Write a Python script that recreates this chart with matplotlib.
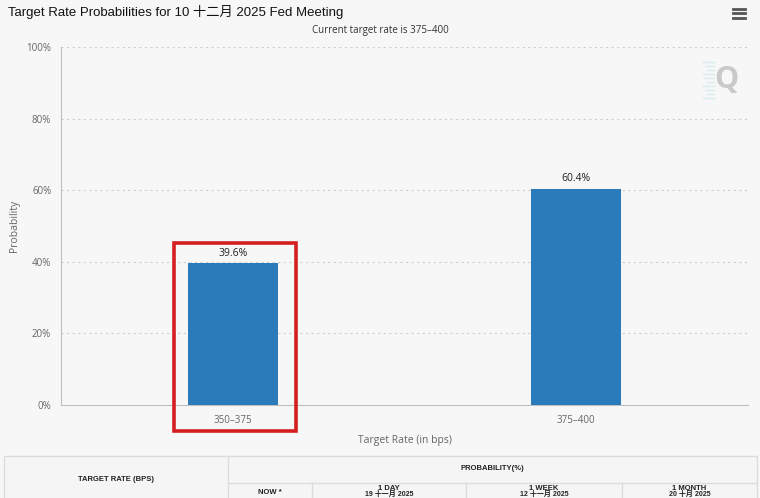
import matplotlib
matplotlib.use("Agg")
import matplotlib.pyplot as plt
from matplotlib.patches import Rectangle
from matplotlib.lines import Line2D

# data
categories = ["350–375", "375–400"]
probabilities = [39.6, 60.4]
y_ticks = [0, 20, 40, 60, 80, 100]
table_cols = ["NOW *", "1 DAY", "1 WEEK", "1 MONTH"]
table_dates = ["", "19 十一月 2025", "12 十一月 2025", "20 十月 2025"]

W, H = 760, 498
bg = "#f7f7f7"
bar_color = "#2b7bba"
text_gray = "#666666"
cjk = ["Liberation Sans", "Noto Sans CJK SC", "DejaVu Sans"]
plt.rcParams["font.family"] = ["Open Sans", "DejaVu Sans"]


def fx(px):
    return px / W


def fy(py):
    return 1 - py / H


fig = plt.figure(figsize=(W / 100, H / 100), dpi=100, facecolor=bg)

ax = fig.add_axes([fx(61), fy(405), fx(748) - fx(61), (405 - 47) / H])
ax.set_facecolor(bg)
x = list(range(len(categories)))
bars = ax.bar(x, probabilities, width=0.262, color=bar_color, zorder=3)
for xi, v in zip(x, probabilities):
    ax.text(xi, v + 1.2, f"{v:.1f}%", ha="center", va="bottom",
            fontsize=7.5, color="#222222", zorder=4)

ax.set_xlim(-0.5, len(categories) - 0.5)
ax.set_ylim(0, 100)
ax.set_yticks(y_ticks)
ax.set_yticklabels([f"{t}%" for t in y_ticks], fontsize=7, color=text_gray)
ax.set_xticks(x)
ax.set_xticklabels(categories, fontsize=7, color=text_gray)
ax.tick_params(axis="both", length=0, pad=7)
ax.yaxis.grid(True, linestyle=(0, (2, 3)), color="#cfcfcf", linewidth=0.8)
ax.set_axisbelow(True)
for s in ["top", "right"]:
    ax.spines[s].set_visible(False)
ax.spines["left"].set_color("#bfbfbf")
ax.spines["bottom"].set_color("#bfbfbf")
ax.spines["left"].set_linewidth(0.8)
ax.spines["bottom"].set_linewidth(0.8)
ax.set_ylabel("Probability", fontsize=7.5, color=text_gray)
ax.yaxis.set_label_coords((20 - 61) / 687, 0.5)
ax.set_xlabel("Target Rate (in bps)", fontsize=7.5, color=text_gray, labelpad=7)

# titles
fig.text(fx(8), fy(12), "Target Rate Probabilities for 10 十二月 2025 Fed Meeting",
         fontsize=9.5, family=cjk, ha="left", va="center", color="#111111")
fig.text(fx(380), fy(30), "Current target rate is 375–400",
         fontsize=7, ha="center", va="center", color="#333333")

# menu icon
for py in [9, 13.5, 18]:
    fig.add_artist(Line2D([fx(733), fx(745)], [fy(py), fy(py)], color="#555555",
                          linewidth=2, transform=fig.transFigure))

# watermark Q
fig.text(fx(726), fy(80), "Q", fontsize=22, fontweight="bold", color="#c9c9c9",
         ha="center", va="center")
for i, py in enumerate(range(62, 100, 4)):
    fig.add_artist(Line2D([fx(703 + i % 3 * 2), fx(714)], [fy(py), fy(py)],
                          color="#d6ecef", linewidth=1, transform=fig.transFigure))

# highlight box
fig.add_artist(Rectangle((fx(174), fy(431)), fx(296) - fx(174), (431 - 243) / H,
                         fill=False, edgecolor="#d42020", linewidth=2.6,
                         transform=fig.transFigure))

# table below
border = "#dcdcdc"
fig.add_artist(Rectangle((fx(4), fy(H + 5)), fx(757) - fx(4), (H + 5 - 456) / H,
                         facecolor="#f5f5f5", edgecolor=border, linewidth=1,
                         transform=fig.transFigure))
fig.add_artist(Line2D([fx(228), fx(228)], [fy(456), 0], color=border, linewidth=1,
                      transform=fig.transFigure))
fig.add_artist(Line2D([fx(228), fx(757)], [fy(483), fy(483)], color=border, linewidth=1,
                      transform=fig.transFigure))
col_edges = [228, 312, 466, 622, 757]
for px in col_edges[1:-1]:
    fig.add_artist(Line2D([fx(px), fx(px)], [fy(483), 0], color=border, linewidth=1,
                          transform=fig.transFigure))
fig.text(fx(116), fy(479), "TARGET RATE (BPS)", fontsize=5.5, fontweight="bold",
         family=cjk, ha="center", va="center", color="#222222")
fig.text(fx(492), fy(468), "PROBABILITY(%)", fontsize=5.5, fontweight="bold",
         family=cjk, ha="center", va="center", color="#222222")
for i, (name, date) in enumerate(zip(table_cols, table_dates)):
    cx = (col_edges[i] + col_edges[i + 1]) / 2
    if date:
        fig.text(fx(cx), fy(488), name, fontsize=5.5, fontweight="bold", family=cjk,
                 ha="center", va="center", color="#222222")
        fig.text(fx(cx), fy(494.5), date, fontsize=5, fontweight="bold", family=cjk,
                 ha="center", va="center", color="#222222")
    else:
        fig.text(fx(cx), fy(492), name, fontsize=5.5, fontweight="bold", family=cjk,
                 ha="center", va="center", color="#222222")

fig.savefig("out.png", dpi=100, facecolor=bg)
